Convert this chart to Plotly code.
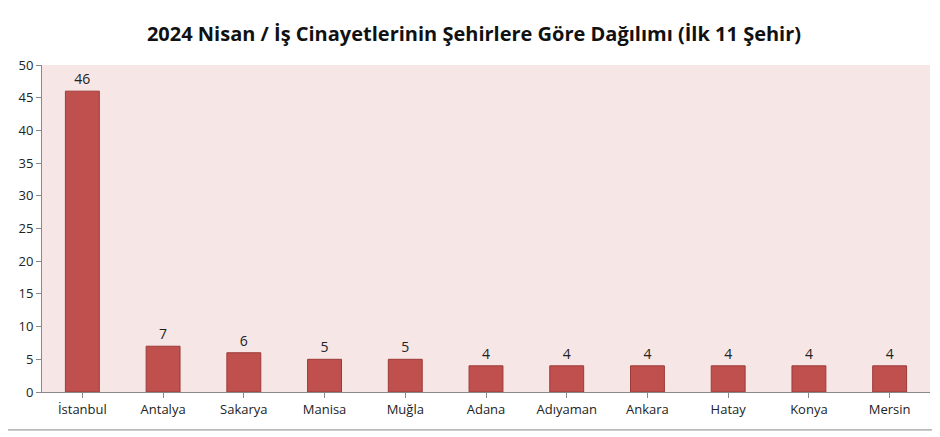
import plotly.graph_objects as go

# İş cinayetleri, Nisan 2024, ilk 11 şehir
cities = ['İstanbul', 'Antalya', 'Sakarya', 'Manisa', 'Muğla', 'Adana',
          'Adıyaman', 'Ankara', 'Hatay', 'Konya', 'Mersin']
deaths = [46, 7, 6, 5, 5, 4, 4, 4, 4, 4, 4]

fig = go.Figure(go.Bar(
    x=cities, y=deaths,
    text=deaths, textposition='outside', cliponaxis=False,
    textfont=dict(size=14, color='#222'),
    marker=dict(color='#C0504D', line=dict(color='#9B3B38', width=1)),
    width=0.42,
))

fig.update_layout(
    width=932, height=429,
    margin=dict(l=34, r=10, t=57, b=45),
    title=dict(text='<b>2024 Nisan / İş Cinayetlerinin Şehirlere Göre Dağılımı (İlk 11 Şehir)</b>',
               x=0.5, xanchor='center', y=0.94, yanchor='middle',
               font=dict(family='Open Sans', size=20, color='#111')),
    font=dict(family='Open Sans', size=13, color='#222'),
    paper_bgcolor='white',
    plot_bgcolor='#F7E6E6',
    showlegend=False,
    shapes=[dict(type='rect', xref='paper', yref='paper', x0=-0.044, x1=1.006,
                 y0=-0.116, y1=1.19, line=dict(color='#888', width=1))],
)
fig.update_xaxes(showline=True, linecolor='#888', ticks='outside', ticklen=5,
                 tickcolor='#888', showgrid=False)
fig.update_yaxes(range=[0, 50], dtick=5, showline=True, linecolor='#888',
                 ticks='outside', ticklen=5, tickcolor='#888', showgrid=False,
                 zeroline=False)

fig.write_html('out.html')
